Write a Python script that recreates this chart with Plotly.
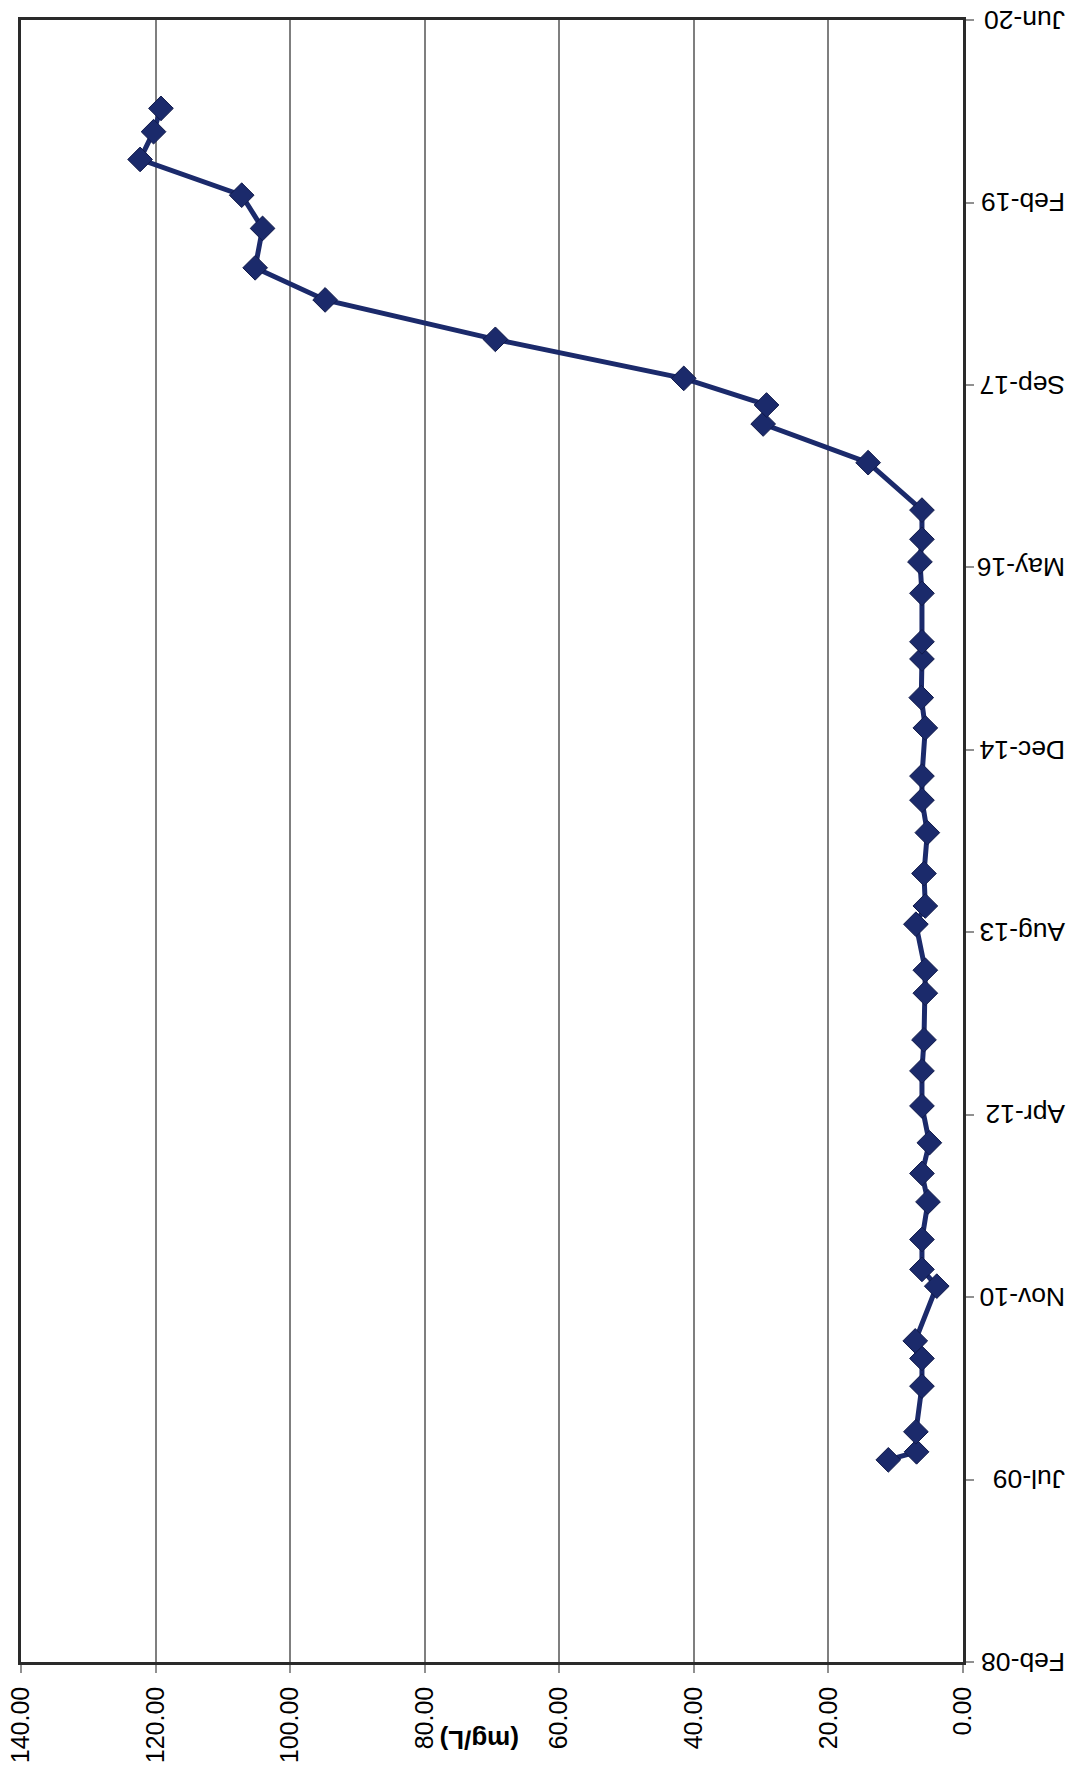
import datetime as dt
import plotly.graph_objects as go

# ---- data ----
sample_dates = [
    "2009-08-29", "2009-09-20", "2009-11-14", "2010-03-19", "2010-06-03",
    "2010-07-21", "2010-12-18", "2011-02-02", "2011-04-25", "2011-08-06",
    "2011-10-23", "2012-01-15", "2012-04-25", "2012-07-30", "2012-10-23",
    "2013-02-28", "2013-05-02", "2013-09-05", "2013-10-25", "2014-01-22",
    "2014-05-14", "2014-08-11", "2014-10-16", "2015-02-25", "2015-05-19",
    "2015-09-02", "2015-10-19", "2016-02-29", "2016-05-25", "2016-07-26",
    "2016-10-14", "2017-02-21", "2017-06-07", "2017-07-29", "2017-10-10",
    "2018-01-25", "2018-05-13", "2018-08-09", "2018-11-25", "2019-02-24",
    "2019-06-02", "2019-08-17", "2019-10-20",
]
concentration_mg_l = [
    11.1, 6.9, 7.0, 6.1, 6.1,
    7.1, 3.9, 6.1, 6.1, 5.2,
    6.1, 5.0, 6.1, 6.1, 5.8,
    5.6, 5.6, 7.0, 5.6, 5.8,
    5.3, 6.1, 6.1, 5.6, 6.2,
    6.1, 6.1, 6.1, 6.4, 6.1,
    6.1, 14.1, 29.7, 29.2, 41.5,
    69.5, 94.8, 105.2, 104.1, 107.2,
    122.3, 120.3, 119.2,
]

value_ticks = [0, 20, 40, 60, 80, 100, 120, 140]
value_tick_labels = ["0.00", "20.00", "40.00", "60.00", "80.00", "100.00", "120.00", "140.00"]

date_axis_start = "2008-02-22"
date_axis_end = "2020-06-18"
date_tick_step_days = 500
date_tick_labels = ["Feb-08", "Jul-09", "Nov-10", "Apr-12", "Aug-13",
                    "Dec-14", "May-16", "Sep-17", "Feb-19", "Jun-20"]

axis_title = "(mg/L)"

# ---- build figure ----
start = dt.date.fromisoformat(date_axis_start)
date_tickvals = [(start + dt.timedelta(days=date_tick_step_days * i)).isoformat()
                 for i in range(len(date_tick_labels))]

LINE = "#1B2A6B"
FONT = "Liberation Sans, Arial, sans-serif"

fig = go.Figure()
fig.add_trace(go.Scatter(
    x=concentration_mg_l,
    y=sample_dates,
    mode="lines+markers",
    line=dict(color=LINE, width=5),
    marker=dict(symbol="diamond", size=19, color=LINE,
                line=dict(color="#111a4a", width=1)),
    showlegend=False,
))

fig.update_layout(
    width=1078, height=1775,
    margin=dict(l=21, r=115, t=20, b=113, autoexpand=False),
    paper_bgcolor="white", plot_bgcolor="white",
    font=dict(family=FONT, color="black"),
    xaxis=dict(
        range=[140, 0],
        tickvals=value_ticks, ticktext=value_tick_labels,
        tickangle=-90,
        tickfont=dict(size=25, family=FONT, color="black"),
        ticks="outside", ticklen=8, tickcolor="#909090", tickwidth=1.5,
        ticklabelstandoff=4,
        automargin=False,
        showgrid=True, gridcolor="#7f7f7f", gridwidth=1.5,
        showline=True, linecolor="#2a2a2a", linewidth=2.5, mirror=True,
        zeroline=False,
    ),
    yaxis=dict(
        type="date",
        range=[date_axis_start, date_axis_end + " 04:00"],
        side="right",
        tickvals=date_tickvals, ticktext=date_tick_labels,
        tickangle=180,
        tickfont=dict(size=26.5, family=FONT, color="black"),
        ticks="outside", ticklen=8, tickcolor="#909090", tickwidth=1.5,
        ticklabelstandoff=86,
        ticklabelshift=8,
        ticklabeloverflow="allow",
        automargin=False,
        showgrid=False,
        showline=True, linecolor="#2a2a2a", linewidth=2.5, mirror=True,
        zeroline=False,
    ),
    annotations=[dict(
        text="<b>" + axis_title + "</b>",
        xref="paper", yref="paper",
        x=(480 - 21) / (963 - 21), y=-(1740 - 1662) / (1662 - 20),
        xanchor="center", yanchor="middle",
        textangle=180, showarrow=False,
        font=dict(size=26, family=FONT, color="black"),
    )],
)

fig.write_html(
    "out.html",
    config={"displayModeBar": False},
    post_script="document.body.style.margin='0';document.body.style.overflow='hidden';",
)
